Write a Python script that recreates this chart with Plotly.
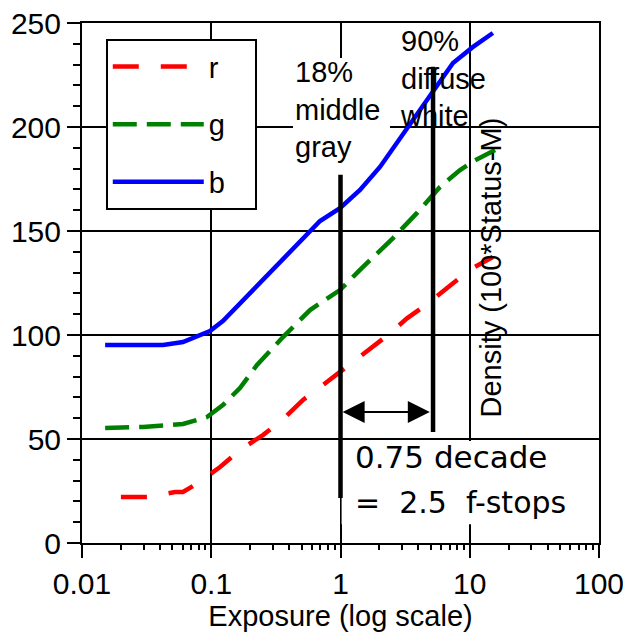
import math
import plotly.graph_objects as go

# ---- data ----
red_x = [0.02, 0.0318, 0.0525, 0.0604, 0.0788, 0.117, 0.1667, 0.251, 0.352, 0.513, 0.733,
         1.12, 1.60, 2.33, 3.27, 4.92, 6.79, 10.4, 15.1]
red_y = [22.1, 22.1, 24.5, 24.5, 28.8, 36.5, 44.7, 51.9, 59.0, 68.8, 76.0,
         84.6, 91.8, 100.0, 108.0, 115.9, 123.0, 132.0, 137.5]
green_x = [0.0151, 0.0297, 0.0604, 0.0927, 0.123, 0.1667, 0.226, 0.359, 0.581, 0.99,
           1.415, 2.55, 3.91, 5.89, 8.41, 11.0, 15.7]
green_y = [55.3, 55.8, 57.2, 60.6, 66.3, 74.5, 85.6, 99.0, 112.0, 121.6,
           131.3, 146.6, 158.7, 171.2, 179.3, 184.0, 189.0]
blue_x = [0.0151, 0.0424, 0.0604, 0.0977, 0.123, 0.238, 0.486, 0.694, 0.99, 1.415,
          2.02, 2.74, 3.64, 5.89, 7.42, 10.6, 15.1]
blue_y = [95.2, 95.2, 96.6, 101.9, 106.7, 125.0, 145.2, 154.8, 161.0, 169.7,
          180.8, 192.3, 203.4, 221.6, 230.8, 238.5, 245.2]

series_names = ["r", "g", "b"]
x_tickvals = [0.01, 0.1, 1, 10, 100]
x_ticktext = ["0.01", "0.1", "1", "10", "100"]
x_minor = [m * 10.0 ** e for e in (-2, -1, 0, 1) for m in range(2, 10)]
y_tickvals = [0, 50, 100, 150, 200, 250]

# reference marks (exposure values and density extents)
gray_x, gray_y = 1.0, [21.6, 177.0]
white_x, white_y = 5.2, [53.4, 229.0]
arrow_y = 63.0

FONT = "Liberation Sans, Arial, sans-serif"
NOTE_FONT = "DejaVu Sans, Verdana, sans-serif"

fig = go.Figure()
styles = [("#FF0000", "26px,22px"), ("#008000", "24px,10px"), ("#0000FF", "solid")]
for name, xs, ys, (col, dash) in zip(series_names, [red_x, green_x, blue_x],
                                     [red_y, green_y, blue_y], styles):
    fig.add_trace(go.Scatter(x=xs, y=ys, mode="lines",
                             name=name + "&nbsp;&nbsp;&nbsp;", legendgroup=name,
                             line=dict(color=col, width=4.5, dash=dash)))

# white boxes that hide the grid behind the notes
fig.add_shape(type="rect", xref="x", yref="y", x0=0.429, x1=2.415, y0=176.9, y1=233.2,
              fillcolor="white", line=dict(width=0), layer="between")
fig.add_shape(type="rect", xref="x", yref="y", x0=1.02, x1=85, y0=9.0, y1=49.0,
              fillcolor="white", line=dict(width=0), layer="between")
# thick reference lines
fig.add_shape(type="line", xref="x", yref="y", x0=gray_x, x1=gray_x, y0=gray_y[0], y1=gray_y[1],
              line=dict(color="black", width=4.5), layer="above")
fig.add_shape(type="line", xref="x", yref="y", x0=white_x, x1=white_x, y0=white_y[0], y1=white_y[1],
              line=dict(color="black", width=4.5), layer="above")

# double-headed arrow
fig.add_annotation(x=math.log10(white_x) - 0.025, y=arrow_y, ax=math.log10(gray_x) + 0.005, ay=arrow_y,
                   xref="x", yref="y", axref="x", ayref="y", text="", showarrow=True,
                   arrowhead=2, startarrowhead=2, arrowside="end+start", arrowsize=2.2,
                   startarrowsize=2.2, arrowwidth=2, arrowcolor="black", standoff=0, startstandoff=0)

# texts
fig.add_annotation(x=-0.3675, y=235.2, xref="x", yref="y", xanchor="left", yanchor="top",
                   text="18%<br>middle<br>gray", align="left", showarrow=False,
                   borderpad=1, font=dict(family=FONT, size=29, color="black"))
fig.add_annotation(x=0.445, y=250.0, xref="x", yref="y", xanchor="left", yanchor="top",
                   text="90%<br>diffuse<br>white", align="left", showarrow=False,
                   font=dict(family=FONT, size=29, color="black"))
fig.add_annotation(x=1.165, y=132.5, xref="x", yref="y", xanchor="center", yanchor="middle",
                   text="Density (100*Status-M)", textangle=-90, showarrow=False,
                   font=dict(family=FONT, size=29, color="black"))
fig.add_annotation(x=0.10, y=41.3, xref="x", yref="y", xanchor="left", yanchor="middle",
                   text="0.75 decade", align="left", showarrow=False,
                   font=dict(family=NOTE_FONT, size=31, color="black"))
fig.add_annotation(x=0.10, y=19.7, xref="x", yref="y", xanchor="left", yanchor="middle",
                   text="=&nbsp;&nbsp;2.5&nbsp;&nbsp;f-stops", align="left", showarrow=False,
                   font=dict(family=NOTE_FONT, size=30, color="black"))

fig.update_xaxes(type="log", range=[-2, 2], tickvals=x_tickvals, ticktext=x_ticktext,
                 automargin=False, ticklabeloverflow="allow",
                 showgrid=True, gridcolor="black", gridwidth=2, zeroline=False,
                 showline=True, linecolor="black", linewidth=2, mirror=True,
                 ticks="outside", ticklen=13, tickwidth=2, tickcolor="black",
                 minor=dict(ticks="outside", ticklen=5, tickwidth=2, tickcolor="black",
                            tickvals=x_minor, showgrid=False),
                 tickfont=dict(family=FONT, size=30, color="black"),
                 title=dict(text="Exposure (log scale)", font=dict(family=FONT, size=29, color="black"),
                            standoff=5))
fig.update_yaxes(range=[0, 250], tickvals=y_tickvals, automargin=False, ticklabeloverflow="allow",
                 showgrid=True, gridcolor="black", gridwidth=2, zeroline=False,
                 showline=True, linecolor="black", linewidth=2, mirror=True,
                 ticks="outside", ticklen=13, tickwidth=2, tickcolor="black",
                 minor=dict(ticks="outside", ticklen=7, tickwidth=2, tickcolor="black",
                            dtick=10, showgrid=False),
                 tickfont=dict(family=FONT, size=30, color="black"))

fig.update_layout(
    width=623, height=633,
    margin=dict(l=82, r=24, t=23, b=90),
    paper_bgcolor="white", plot_bgcolor="white",
    font=dict(family=FONT, color="black"),
    showlegend=True,
    legend=dict(x=0.046, y=0.969, xanchor="left", yanchor="top", bgcolor="white",
                bordercolor="black", borderwidth=2, tracegroupgap=17, itemwidth=91,
                font=dict(family=FONT, size=29, color="black")),
)

# remove the default page margin so the figure fills the window exactly
fig.write_html("out.html", config={"displayModeBar": False},
               post_script="document.body.style.margin='0px';")
